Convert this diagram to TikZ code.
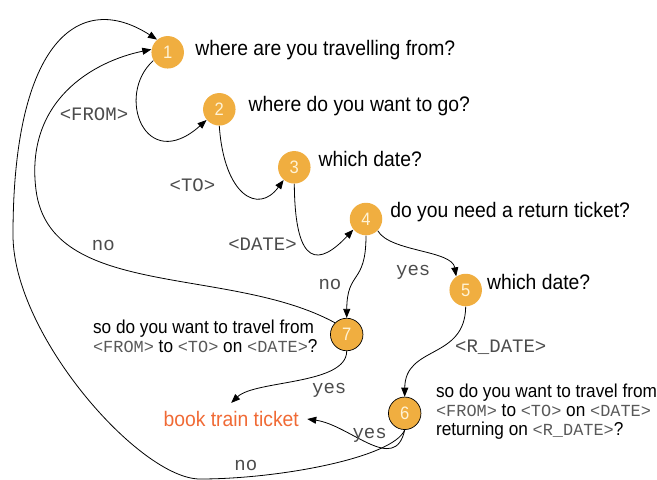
\documentclass[tikz,border=0pt]{standalone}
\usepackage{fontspec}
\setmainfont{Liberation Sans}[FakeStretch=0.92]
\setmonofont{Liberation Mono}
\usetikzlibrary{arrows.meta}

\definecolor{qorange}{HTML}{F0AE40}
\definecolor{qdigit}{HTML}{FFF3D6}
\definecolor{qbook}{HTML}{F06A35}

% slot names inside the questions
\newcommand{\slotname}[1]{{\fontsize{16.9}{19}\selectfont\ttfamily\color{black!65}#1}}
\lineskiplimit=-10pt

\begin{document}
\begin{tikzpicture}[x=1pt, y=-1pt, line width=0.8pt,
    >={Triangle[length=9pt,width=7pt]},
    qnode/.style={circle, fill=qorange, minimum size=32.5pt, inner sep=0pt,
        text=qdigit, font=\fontsize{18}{18}\selectfont},
    qcheck/.style={qnode, draw=black, line width=0.7pt},
    qtext/.style={anchor=base west, inner sep=0pt, align=left, text=black,
        font=\fontsize{21}{19}\selectfont},
    qconfirm/.style={qtext, font=\fontsize{18.7}{19}\selectfont},
    lbl/.style={anchor=base, inner sep=0pt, text=black!70,
        font=\fontsize{19}{19}\selectfont\ttfamily}]

    \useasboundingbox (0,0) rectangle (657,480);

    % Question nodes
    \node[qnode] (n1) at (167.7,52.3) {1};
    \node[qnode] (n2) at (219.3,109.3) {2};
    \node[qnode] (n3) at (294.3,167.3) {3};
    \node[qnode] (n4) at (366,219) {4};
    \node[qnode] (n5) at (465.7,290) {5};
    \node[qcheck] (n6) at (404.7,413.3) {6};
    \node[qcheck] (n7) at (346.7,334.5) {7};

    % Questions
    \node[qtext] (t1) at (195,55) {where are you travelling from?};
    \node[qtext] (t2) at (248.3,111.7) {where do you want to go?};
    \node[qtext] (t3) at (318.3,166) {which date?};
    \node[qtext] (t4) at (390,217.7) {do you need a return ticket?};
    \node[qtext] (t5) at (486.7,289.3) {which date?};
    \node[qconfirm] (t7) at (92.7,352.7) {so do you want to travel from\\
        \slotname{<FROM>} to \slotname{<TO>} on \slotname{<DATE>}?};
    \node[qconfirm] (t6) at (435.7,435.7) {so do you want to travel from\\
        \slotname{<FROM>} to \slotname{<TO>} on \slotname{<DATE>}\\
        returning on \slotname{<R\_DATE>}?};

    % Final action
    \node[text=qbook, inner sep=8pt, font=\fontsize{21}{21}\selectfont]
        (book) at (231.2,419) {book train ticket};

    % Forward arrows
    \draw[->] (n1.210) .. controls (115,95) and (145,175) .. (n2.220);
    \draw[->] (n2.south) .. controls (224,195) and (258,215) .. (n3.230);
    \draw[->] (n3.south) .. controls (295,270) and (320,265) .. (n4.220);
    \draw[->] (n4.-45) .. controls (390,252) and (452,250) .. (n5.125);
    \draw[->] (n4.south) .. controls (366,285) and (347,270) .. (n7.north);
    \draw[->] (n5.south) .. controls (465,360) and (405,345) .. (n6.north);

    % Confirmations
    \draw[->] (n7.south) .. controls (346.7,385) and (255,380) .. (book.north);
    \draw[->] (n6.south) .. controls (395,475) and (350,425) .. (book.east);

    % Back to the start
    \draw[->] (n7.135) .. controls (229.4,265.2) and (50,300) .. (36,190)
        .. controls (24.7,100.9) and (92.7,61.5) .. (n1.170);
    \draw[->] (n6.south) .. controls (393.3,457.4) and (280,479) .. (200,479)
        .. controls (140,479) and (13,335) .. (13,235)
        .. controls (13,40) and (80,-10) .. (n1.130);

    % Edge labels
    \node[lbl] (lfrom) at (94,120.5) {<FROM>};
    \node[lbl] (lto) at (192.5,191.7) {<TO>};
    \node[lbl] (ldate) at (262.5,250) {<DATE>};
    \node[lbl] (lyes45) at (413.3,275) {yes};
    \node[lbl] (lno47) at (330,289.3) {no};
    \node[lbl] (lrdate) at (500.8,352) {<R\_DATE>};
    \node[lbl] (lno71) at (103.3,250) {no};
    \node[lbl] (lyes7) at (329.3,393) {yes};
    \node[lbl] (lyes6) at (369.7,438) {yes};
    \node[lbl] (lno61) at (245.8,470) {no};

\end{tikzpicture}
\end{document}
